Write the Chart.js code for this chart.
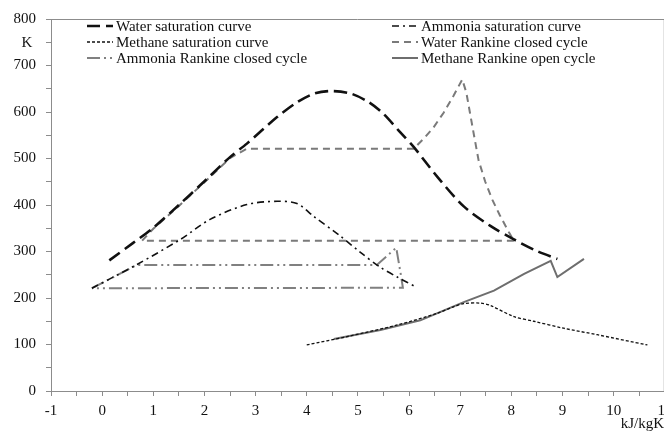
<!DOCTYPE html>
<html>
<head>
<meta charset="utf-8">
<title>T-s diagram</title>
<script src="https://cdn.jsdelivr.net/npm/chart.js@4.4.0/dist/chart.umd.min.js"></script>
<style>
  html, body { margin: 0; padding: 0; background: #fff; overflow: hidden; }
  #wrap { width: 664px; height: 436px; overflow: hidden; }
</style>
</head>
<body>
<div id="wrap"><canvas id="tsChart" width="678" height="436"></canvas></div>
<script>
// entropy (kJ/kgK) and temperature (K)

// Water saturation curve
var waterSatS = [0.14, 0.6, 1.0, 1.5, 2.0, 2.5, 2.83, 3.42, 3.8, 4.13, 4.46, 4.85, 5.2, 5.5, 5.83, 6.09, 6.55, 7.07, 7.59, 8.05, 8.5, 8.9];
var waterSatT = [281, 318, 351, 400, 451, 503, 532, 589, 620, 639, 645, 640, 622, 596, 556, 525, 461, 397, 355, 326, 301, 284];

// Ammonia saturation curve
var ammoniaSatS = [-0.2, 0.68, 1.53, 2.11, 2.83, 3.42, 3.81, 4.13, 4.66, 5.05, 5.44, 5.77, 6.15];
var ammoniaSatT = [221, 272, 326, 369, 401, 408, 403, 376, 333, 298, 266, 245, 223];

// Methane saturation curve
var methaneSatS = [4.0, 4.79, 5.77, 6.55, 6.87, 7.07, 7.4, 7.59, 8.05, 8.44, 9.02, 9.68, 10.66];
var methaneSatT = [99, 117, 142, 167, 181, 188, 189, 184, 160, 150, 135, 121, 99];

// Water Rankine closed cycle
var waterCycleS = [8.05, 0.78, 1.0, 1.5, 2.0, 2.5, 2.83, 6.09, 6.29, 6.48, 6.68, 6.87, 7.04, 7.12, 7.19, 7.27, 7.36, 7.49, 7.63, 7.77, 7.95, 8.05];
var waterCycleT = [323, 323, 349, 398, 449, 501, 521, 521, 543, 567, 599, 635, 670, 642, 599, 550, 496, 450, 411, 379, 342, 323];

// Ammonia Rankine closed cycle
var ammoniaCycleS = [-0.2, 0.68, 5.37, 5.75, 5.84, 5.88, -0.2];
var ammoniaCycleT = [221, 271, 271, 308, 250, 222, 221];

// Methane Rankine open cycle
var methaneCycleS = [4.53, 5.44, 6.22, 7.07, 7.66, 8.25, 8.77, 8.9, 9.42];
var methaneCycleT = [112, 131, 152, 191, 216, 252, 280, 245, 284];

var fontFamily = "'Liberation Serif', 'Times New Roman', serif";
var axisColor = '#8c8c8c';

function toPoints(xs, ys) {
  var pts = [];
  for (var i = 0; i < xs.length; i++) {
    pts.push({ x: xs[i], y: ys[i] });
  }
  return pts;
}

// legend slots: [column x, row y]
var legendSlots = [[87, 26], [392, 26], [87, 42], [392, 42], [87, 58], [392, 58]];

var framePlugin = {
  id: 'frame',
  beforeDatasetsDraw: function (chart) {
    var a = chart.chartArea;
    var ctx = chart.ctx;
    ctx.save();
    ctx.strokeStyle = axisColor;
    ctx.lineWidth = 1;
    ctx.beginPath();
    ctx.moveTo(a.left, a.top + 0.5);
    ctx.lineTo(a.right - 0.5, a.top + 0.5);
    ctx.lineTo(a.right - 0.5, a.bottom);
    ctx.stroke();
    ctx.restore();
  },
  afterDraw: function (chart) {
    var ctx = chart.ctx;
    ctx.save();
    ctx.font = '15px ' + fontFamily;
    ctx.fillStyle = '#111';
    ctx.textBaseline = 'middle';

    // axis units
    ctx.textAlign = 'center';
    ctx.fillText('K', 27, 43);
    ctx.textAlign = 'right';
    ctx.fillText('kJ/kgK', 664, 424);

    // legend, drawn from the dataset styles
    ctx.textAlign = 'left';
    chart.data.datasets.forEach(function (ds, i) {
      var slot = legendSlots[i];
      ctx.save();
      ctx.strokeStyle = ds.borderColor;
      ctx.lineWidth = ds.borderWidth;
      ctx.setLineDash(ds.borderDash || []);
      ctx.beginPath();
      ctx.moveTo(slot[0], slot[1]);
      ctx.lineTo(slot[0] + 26, slot[1]);
      ctx.stroke();
      ctx.restore();
      ctx.fillText(ds.label, slot[0] + 29, slot[1] + 1);
    });
    ctx.restore();
  }
};

var tsChart = new Chart(document.querySelector('#tsChart'), {
  type: 'scatter',
  data: {
    datasets: [
      {
        label: 'Water saturation curve',
        data: toPoints(waterSatS, waterSatT),
        borderColor: '#111',
        borderWidth: 2.6,
        borderDash: [13, 6],
        tension: 0.3
      },
      {
        label: 'Ammonia saturation curve',
        data: toPoints(ammoniaSatS, ammoniaSatT),
        borderColor: '#111',
        borderWidth: 1.6,
        borderDash: [7, 4, 2, 4],
        tension: 0.3
      },
      {
        label: 'Methane saturation curve',
        data: toPoints(methaneSatS, methaneSatT),
        borderColor: '#111',
        borderWidth: 1.3,
        borderDash: [3, 2],
        tension: 0.3
      },
      {
        label: 'Water Rankine closed cycle',
        data: toPoints(waterCycleS, waterCycleT),
        borderColor: '#7a7a7a',
        borderWidth: 2,
        borderDash: [7, 5],
        tension: 0
      },
      {
        label: 'Ammonia Rankine closed cycle',
        data: toPoints(ammoniaCycleS, ammoniaCycleT),
        borderColor: '#808080',
        borderWidth: 2,
        borderDash: [13, 4, 2, 4, 2, 4],
        tension: 0
      },
      {
        label: 'Methane Rankine open cycle',
        data: toPoints(methaneCycleS, methaneCycleT),
        borderColor: '#6e6e6e',
        borderWidth: 2,
        tension: 0
      }
    ]
  },
  options: {
    responsive: false,
    animation: false,
    showLine: true,
    pointRadius: 0,
    pointHoverRadius: 0,
    layout: { padding: { top: 3, left: 0, right: 0, bottom: 0 } },
    plugins: {
      legend: { display: false },
      tooltip: { enabled: false }
    },
    scales: {
      x: {
        type: 'linear',
        min: -1,
        max: 11,
        afterFit: function (scale) { scale.height = 45; },
        ticks: {
          stepSize: 0.5,
          autoSkip: false,
          maxRotation: 0,
          padding: 6,
          color: '#111',
          font: { family: fontFamily, size: 15 },
          callback: function (v) { return Number.isInteger(v) ? String(v) : ''; }
        },
        grid: { drawOnChartArea: false, tickLength: 5, color: axisColor },
        border: { color: axisColor, width: 1 }
      },
      y: {
        min: 0,
        max: 800,
        afterFit: function (scale) { scale.width = 51; },
        ticks: {
          stepSize: 50,
          autoSkip: false,
          padding: 10,
          color: '#111',
          font: { family: fontFamily, size: 15 },
          callback: function (v) { return v % 100 === 0 ? String(v) : ''; }
        },
        grid: { drawOnChartArea: false, tickLength: 5, color: axisColor },
        border: { color: axisColor, width: 1 }
      }
    }
  },
  plugins: [framePlugin]
});
</script>
</body>
</html>
